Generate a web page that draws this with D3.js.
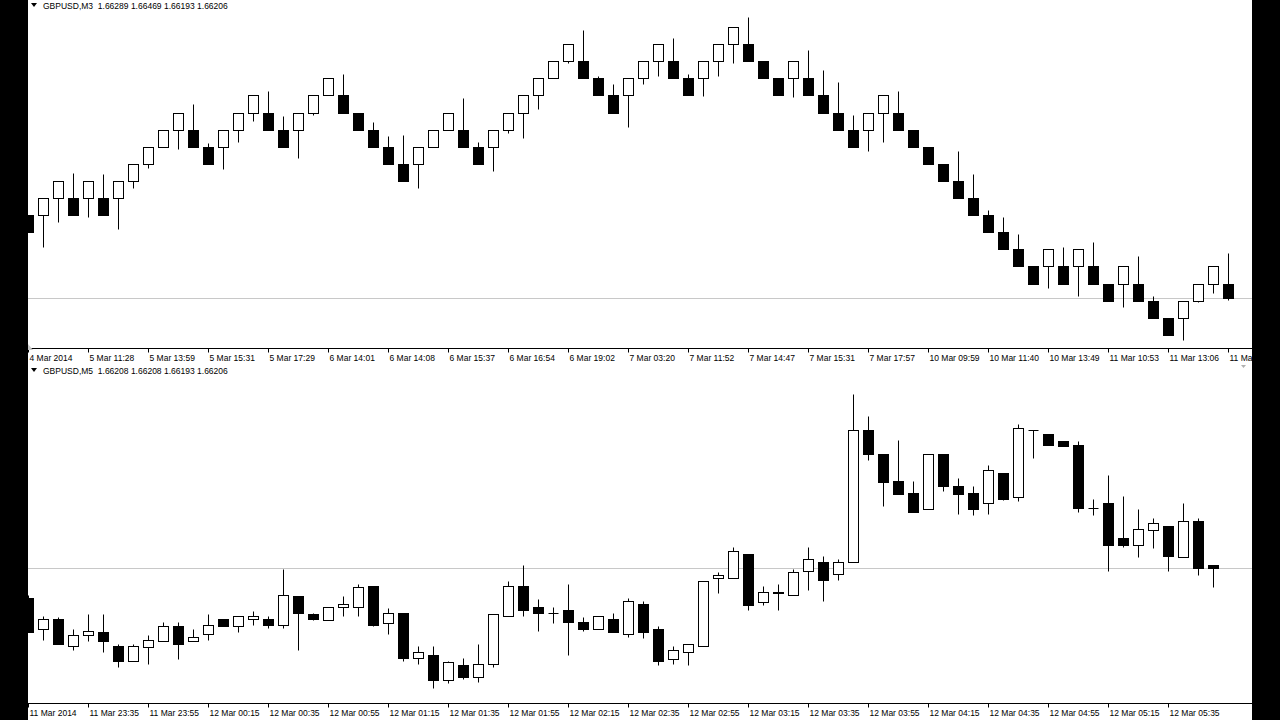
<!DOCTYPE html>
<html><head><meta charset="utf-8">
<script src="https://cdn.jsdelivr.net/npm/d3@7"></script>
<style>html,body{margin:0;padding:0;background:#fff;overflow:hidden}svg{display:block}</style>
</head><body><svg id="c" width="1280" height="720"></svg>
<script>
// ---------- DATA ----------
const topTitle = "GBPUSD,M3";
const topQuote = ["1.66289", "1.66469", "1.66193", "1.66206"];
const topBid = 1.66206;
const topOpen = [1.66689,1.66689,1.66789,1.66789,1.66789,1.66789,1.66789,1.66889,1.66989,1.67089,
 1.67189,1.67189,1.67089,1.67089,1.67189,1.67289,1.67289,1.67189,1.67189,1.67289,
 1.67389,1.67389,1.67289,1.67189,1.67089,1.66989,1.66989,1.67089,1.67189,1.67189,
 1.67089,1.67089,1.67189,1.67289,1.67389,1.67489,1.67589,1.67589,1.67489,1.67389,
 1.67389,1.67489,1.67589,1.67589,1.67489,1.67489,1.67589,1.67689,1.67689,1.67589,
 1.67489,1.67489,1.67489,1.67389,1.67289,1.67189,1.67189,1.67289,1.67289,1.67189,
 1.67089,1.66989,1.66889,1.66789,1.66689,1.66589,1.66489,1.66389,1.66389,1.66389,
 1.66389,1.66389,1.66289,1.66289,1.66289,1.66189,1.66089,1.66089,1.66189,1.66289,
 1.66289];
const topClose = [1.66589,1.66789,1.66889,1.66689,1.66889,1.66689,1.66889,1.66989,1.67089,1.67189,
 1.67289,1.67089,1.66989,1.67189,1.67289,1.67389,1.67189,1.67089,1.67289,1.67389,
 1.67489,1.67289,1.67189,1.67089,1.66989,1.66889,1.67089,1.67189,1.67289,1.67089,
 1.66989,1.67189,1.67289,1.67389,1.67489,1.67589,1.67689,1.67489,1.67389,1.67289,
 1.67489,1.67589,1.67689,1.67489,1.67389,1.67589,1.67689,1.67789,1.67589,1.67489,
 1.67389,1.67589,1.67389,1.67289,1.67189,1.67089,1.67289,1.67389,1.67189,1.67089,
 1.66989,1.66889,1.66789,1.66689,1.66589,1.66489,1.66389,1.66289,1.66489,1.66289,
 1.66489,1.66289,1.66189,1.66389,1.66189,1.66089,1.65989,1.66189,1.66289,1.66389,
 1.66206];
const topHigh = [1.66689,1.66789,1.66889,1.66938,1.66889,1.66932,1.66889,1.66989,1.67089,1.67189,
 1.67289,1.67336,1.67108,1.67189,1.67289,1.67389,1.67412,1.67266,1.67289,1.67389,
 1.67489,1.67517,1.67289,1.67236,1.67149,1.67155,1.67089,1.67189,1.67289,1.67371,
 1.67114,1.67189,1.67289,1.67389,1.67489,1.67589,1.67689,1.67769,1.67500,1.67453,
 1.67489,1.67589,1.67689,1.67722,1.67517,1.67589,1.67689,1.67789,1.67850,1.67589,
 1.67489,1.67589,1.67652,1.67535,1.67470,1.67277,1.67289,1.67389,1.67412,1.67189,
 1.67089,1.66989,1.67061,1.66932,1.66716,1.66675,1.66576,1.66389,1.66489,1.66500,
 1.66489,1.66529,1.66289,1.66389,1.66447,1.66213,1.66089,1.66189,1.66289,1.66389,
 1.66469];
const topLow = [1.66589,1.66505,1.66646,1.66689,1.66675,1.66689,1.66605,1.66850,1.66967,1.67089,
 1.67073,1.67089,1.66989,1.66956,1.67119,1.67242,1.67189,1.67089,1.67020,1.67277,
 1.67389,1.67289,1.67189,1.67089,1.66989,1.66889,1.66850,1.67089,1.67189,1.67089,
 1.66989,1.66944,1.67172,1.67137,1.67312,1.67489,1.67580,1.67489,1.67389,1.67289,
 1.67207,1.67453,1.67500,1.67489,1.67389,1.67383,1.67505,1.67576,1.67589,1.67489,
 1.67389,1.67377,1.67389,1.67289,1.67189,1.67089,1.67061,1.67114,1.67189,1.67089,
 1.66989,1.66889,1.66789,1.66689,1.66589,1.66489,1.66389,1.66289,1.66260,1.66289,
 1.66213,1.66289,1.66189,1.66149,1.66189,1.66089,1.65989,1.65956,1.66178,1.66236,
 1.66193];
const topLabels = ["4 Mar 2014","5 Mar 11:28","5 Mar 13:59","5 Mar 15:31","5 Mar 17:29","6 Mar 14:01",
 "6 Mar 14:08","6 Mar 15:37","6 Mar 16:54","6 Mar 19:02","7 Mar 03:20","7 Mar 11:52","7 Mar 14:47",
 "7 Mar 15:31","7 Mar 17:57","10 Mar 09:59","10 Mar 11:40","10 Mar 13:49","11 Mar 10:53",
 "11 Mar 13:06","11 Mar"];

const botTitle = "GBPUSD,M5";
const botQuote = ["1.66208", "1.66208", "1.66193", "1.66206"];
const botBid = 1.66206;
const botOpen = [1.66186,1.66165,1.66172,1.66154,1.66161,1.66163,1.66154,1.66144,1.66153,1.66157,
 1.66167,1.66157,1.66162,1.66172,1.66167,1.66172,1.66172,1.66168,1.66187,1.66175,
 1.66171,1.66180,1.66180,1.66194,1.66169,1.66176,1.66146,1.66148,1.66131,1.66141,
 1.66133,1.66142,1.66174,1.66194,1.66180,1.66176,1.66178,1.66170,1.66165,1.66172,
 1.66162,1.66182,1.66165,1.66145,1.66150,1.66154,1.66199,1.66199,1.66215,1.66183,
 1.66190,1.66188,1.66204,1.66210,1.66202,1.66210,1.66298,1.66282,1.66264,1.66256,
 1.66245,1.66282,1.66260,1.66256,1.66249,1.66269,1.66253,1.66298,1.66295,1.66290,
 1.66288,1.66246,1.66249,1.66226,1.66221,1.66231,1.66234,1.66213,1.66237,1.66208];
const botClose = [1.66163,1.66172,1.66155,1.66161,1.66164,1.66157,1.66144,1.66154,1.66158,1.66167,
 1.66155,1.66160,1.66168,1.66167,1.66174,1.66174,1.66168,1.66188,1.66176,1.66172,
 1.66180,1.66182,1.66193,1.66168,1.66176,1.66146,1.66150,1.66131,1.66143,1.66133,
 1.66142,1.66175,1.66194,1.66178,1.66176,1.66176,1.66170,1.66165,1.66174,1.66163,
 1.66184,1.66163,1.66144,1.66151,1.66155,1.66197,1.66201,1.66217,1.66181,1.66190,
 1.66189,1.66203,1.66212,1.66198,1.66210,1.66298,1.66282,1.66263,1.66255,1.66243,
 1.66282,1.66260,1.66255,1.66245,1.66271,1.66252,1.66299,1.66298,1.66288,1.66287,
 1.66246,1.66246,1.66221,1.66221,1.66232,1.66236,1.66214,1.66237,1.66206,1.66206];
const botHigh = [1.66188,1.66174,1.66173,1.66165,1.66175,1.66175,1.66155,1.66155,1.66161,1.66170,
 1.66170,1.66165,1.66175,1.66172,1.66174,1.66177,1.66174,1.66205,1.66187,1.66176,
 1.66180,1.66187,1.66195,1.66194,1.66179,1.66176,1.66154,1.66154,1.66144,1.66146,
 1.66155,1.66175,1.66197,1.66208,1.66185,1.66180,1.66195,1.66173,1.66174,1.66176,
 1.66186,1.66184,1.66167,1.66154,1.66155,1.66197,1.66203,1.66220,1.66215,1.66194,
 1.66195,1.66205,1.66220,1.66214,1.66212,1.66322,1.66307,1.66282,1.66291,1.66264,
 1.66282,1.66282,1.66266,1.66260,1.66274,1.66269,1.66302,1.66298,1.66295,1.66290,
 1.66290,1.66252,1.66268,1.66254,1.66245,1.66239,1.66234,1.66249,1.66239,1.66208];
const botLow = [1.66163,1.66158,1.66155,1.66151,1.66157,1.66150,1.66140,1.66144,1.66142,1.66157,
 1.66145,1.66157,1.66158,1.66167,1.66163,1.66168,1.66166,1.66166,1.66151,1.66171,
 1.66171,1.66174,1.66174,1.66167,1.66162,1.66144,1.66142,1.66126,1.66129,1.66132,
 1.66130,1.66140,1.66174,1.66174,1.66164,1.66169,1.66148,1.66164,1.66165,1.66163,
 1.66160,1.66159,1.66141,1.66142,1.66141,1.66154,1.66189,1.66199,1.66178,1.66181,
 1.66178,1.66188,1.66191,1.66184,1.66198,1.66210,1.66278,1.66247,1.66255,1.66243,
 1.66245,1.66257,1.66242,1.66241,1.66242,1.66251,1.66250,1.66279,1.66288,1.66287,
 1.66243,1.66241,1.66204,1.66220,1.66213,1.66219,1.66204,1.66213,1.66201,1.66193];
const botLabels = ["11 Mar 2014","11 Mar 23:35","11 Mar 23:55","12 Mar 00:15","12 Mar 00:35",
 "12 Mar 00:55","12 Mar 01:15","12 Mar 01:35","12 Mar 01:55","12 Mar 02:15","12 Mar 02:35",
 "12 Mar 02:55","12 Mar 03:15","12 Mar 03:35","12 Mar 03:55","12 Mar 04:15","12 Mar 04:35",
 "12 Mar 04:55","12 Mar 05:15","12 Mar 05:35"];

// ---------- DRAW ----------
const W = 1280, H = 720, L = 28, R = 1252;
const FONT = "'Liberation Sans', Arial, sans-serif";
const svg = d3.select("#c");
svg.append("rect").attr("width", W).attr("height", H).attr("fill", "#fff");

const snap = v => Math.round(v - 0.5) + 0.5;

function panel(o) {
  const n = o.open.length;
  const x = d3.scaleLinear().domain([0, 1]).range([28.5, 43.5]);
  const y = d3.scaleLinear().domain(o.domain).range(o.range);
  const g = svg.append("g");

  // title
  g.append("path").attr("d", `M31,${o.titleY - 3}L37,${o.titleY - 3}L34,${o.titleY + 1}Z`).attr("fill", "#000");
  g.append("text").attr("x", 43).attr("y", o.titleY + 3)
    .attr("font-family", FONT).attr("font-size", "8.5px").attr("fill", "#000")
    .attr("xml:space", "preserve")
    .text(o.title + "  " + o.quote.join(" "));

  // bid line
  g.append("line").attr("x1", L).attr("x2", R)
    .attr("y1", snap(y(o.bid))).attr("y2", snap(y(o.bid)))
    .attr("stroke", "#c8c8c8").attr("stroke-width", 1);

  const data = d3.range(n).map(i => ({ i, o: o.open[i], c: o.close[i], h: o.high[i], l: o.low[i] }));

  g.selectAll("line.wick").data(data).join("line").attr("class", "wick")
    .attr("x1", d => x(d.i)).attr("x2", d => x(d.i))
    .attr("y1", d => snap(y(d.h))).attr("y2", d => snap(y(d.l)))
    .attr("stroke", "#000").attr("stroke-width", 1);

  const bodies = data.filter(d => Math.abs(snap(y(d.o)) - snap(y(d.c))) >= 1);
  const dojis = data.filter(d => Math.abs(snap(y(d.o)) - snap(y(d.c))) < 1);

  g.selectAll("rect.body").data(bodies).join("rect").attr("class", "body")
    .attr("x", d => x(d.i) - 5).attr("width", 10)
    .attr("y", d => Math.min(snap(y(d.o)), snap(y(d.c))))
    .attr("height", d => Math.abs(snap(y(d.o)) - snap(y(d.c))))
    .attr("fill", d => d.c >= d.o ? "#fff" : "#000")
    .attr("stroke", "#000").attr("stroke-width", 1);

  g.selectAll("line.doji").data(dojis).join("line").attr("class", "doji")
    .attr("x1", d => x(d.i) - 5).attr("x2", d => x(d.i) + 5)
    .attr("y1", d => snap(y(d.o))).attr("y2", d => snap(y(d.o)))
    .attr("stroke", "#000").attr("stroke-width", 1);

  // time axis
  const tv = o.labels.map((_, k) => k * 4);
  const axis = d3.axisBottom(x).tickValues(tv).tickFormat((d, k) => o.labels[k])
    .tickSize(4).tickSizeOuter(0).offset(0);
  const ag = g.append("g").attr("transform", `translate(0,${o.axisY + 0.5})`).call(axis);
  ag.select(".domain").remove();
  ag.selectAll(".tick line").attr("stroke", "#000");
  ag.selectAll(".tick text").attr("text-anchor", "start").attr("x", 1).attr("y", 6)
    .attr("font-family", FONT).attr("font-size", "8.5px").attr("fill", "#000");
  g.append("line").attr("x1", L).attr("x2", R).attr("y1", o.axisY + 0.5).attr("y2", o.axisY + 0.5)
    .attr("stroke", "#000").attr("stroke-width", 1);
}

panel({ title: topTitle, quote: topQuote, titleY: 6, bid: topBid,
  open: topOpen, close: topClose, high: topHigh, low: topLow, labels: topLabels,
  domain: [1.66289, 1.67289], range: [284, 113], axisY: 348 });

panel({ title: botTitle, quote: botQuote, titleY: 371, bid: botBid,
  open: botOpen, close: botClose, high: botHigh, low: botLow, labels: botLabels,
  domain: [1.66206, 1.66306], range: [568, 418], axisY: 703 });

// small markers
svg.append("path").attr("d", "M28,344L28,350L33,350Z").attr("fill", "#c8c8c8");
svg.append("path").attr("d", "M1241,365L1246,365L1243.5,368Z").attr("fill", "#b0b0b0");

// side black bars
svg.append("rect").attr("x", 0).attr("y", 0).attr("width", L).attr("height", H).attr("fill", "#000");
svg.append("rect").attr("x", R).attr("y", 0).attr("width", W - R).attr("height", H).attr("fill", "#000");
</script>
</body></html>
